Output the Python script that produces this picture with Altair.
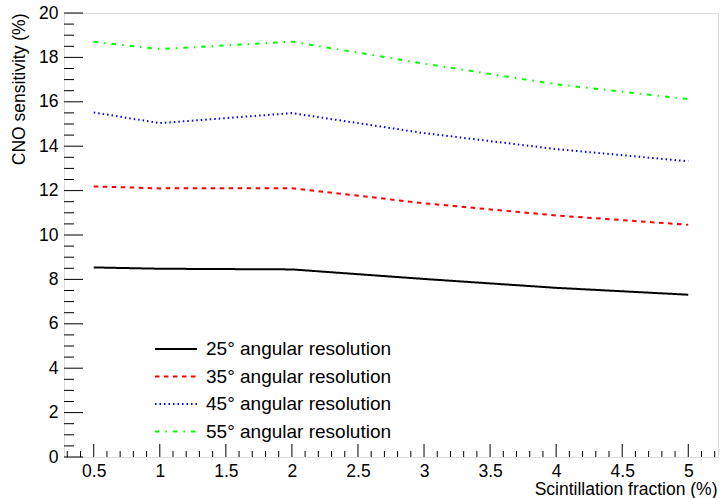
import altair as alt
import pandas as pd

# ---- data ----
scint_fraction = [0.5, 1, 2, 3, 4, 5]
sens_25 = [8.54, 8.48, 8.45, 8.02, 7.62, 7.31]
sens_35 = [12.19, 12.10, 12.11, 11.43, 10.88, 10.46]
sens_45 = [15.52, 15.04, 15.49, 14.59, 13.87, 13.32]
sens_55 = [18.70, 18.37, 18.71, 17.72, 16.79, 16.12]
series_labels = ["25° angular resolution", "35° angular resolution",
                 "45° angular resolution", "55° angular resolution"]
series_colors = ["#000000", "#ff0000", "#0000ff", "#00ff00"]
series_dashes = [[1, 0], [4.5, 4.5], [1.5, 3], [4.5, 6, 1.5, 6]]

y_major = [0, 2, 4, 6, 8, 10, 12, 14, 16, 18, 20]
y_minor = [v / 2 for v in range(0, 41) if v % 4 != 0]
x_major = [0.5, 1, 1.5, 2, 2.5, 3, 3.5, 4, 4.5, 5]
x_minor = [round(0.3 + 0.1 * i, 2) for i in range(0, 50)]
x_minor = [v for v in x_minor if round(v * 10) % 5 != 0]

XDOM = [0.275, 5.225]
YDOM = [0, 20]
W, H = 654, 444
FONT = "Liberation Sans"
LBL = 17.5

xs = alt.Scale(domain=XDOM, nice=False, zero=False)
ys = alt.Scale(domain=YDOM, nice=False, zero=False)

all_series = [sens_25, sens_35, sens_45, sens_55]

layers = []

# axes (labels only, ticks drawn as rules inside)
base_axes = alt.Chart(pd.DataFrame({"x": [XDOM[0]], "y": [YDOM[0]]})).mark_point(opacity=0).encode(
    x=alt.X("x:Q", scale=xs,
            axis=alt.Axis(values=x_major, format="~g", tickSize=0, labelPadding=5, labelFontSize=LBL,
                          labelFont=FONT, labelColor="black", domain=False, grid=False,
                          labelFlush=False,
                          title="Scintillation fraction (%)", titleFont=FONT, titleFontSize=LBL,
                          titleFontWeight="normal", titleAlign="right", titleAnchor="end",
                          titleX=W - 1, titleY=37, titleBaseline="alphabetic")),
    y=alt.Y("y:Q", scale=ys,
            axis=alt.Axis(values=y_major, format="~g", tickSize=0, labelPadding=6, labelFontSize=LBL,
                          labelFont=FONT, labelColor="black", domain=False, grid=False,
                          labelFlush=False,
                          title="CNO sensitivity (%)", titleFont=FONT, titleFontSize=LBL,
                          titleFontWeight="normal", titleAngle=-90, titleAlign="right",
                          titleX=-40, titleY=0, titleBaseline="alphabetic")),
)
layers.append(base_axes)

# y ticks (inward)
layers.append(alt.Chart(pd.DataFrame({"v": y_major})).mark_rule(color="black", strokeWidth=1).encode(
    y=alt.Y("v:Q", scale=ys), x=alt.value(0), x2=alt.value(19)))
layers.append(alt.Chart(pd.DataFrame({"v": y_minor})).mark_rule(color="black", strokeWidth=1).encode(
    y=alt.Y("v:Q", scale=ys), x=alt.value(0), x2=alt.value(10)))
# x ticks (inward)
layers.append(alt.Chart(pd.DataFrame({"v": x_major})).mark_rule(color="black", strokeWidth=1).encode(
    x=alt.X("v:Q", scale=xs), y=alt.value(H), y2=alt.value(H - 13)))
layers.append(alt.Chart(pd.DataFrame({"v": x_minor})).mark_rule(color="black", strokeWidth=1).encode(
    x=alt.X("v:Q", scale=xs), y=alt.value(H), y2=alt.value(H - 6)))

# data lines
for vals, lab, col, dash in zip(all_series, series_labels, series_colors, series_dashes):
    df = pd.DataFrame({"x": scint_fraction, "y": vals, "s": lab})
    layers.append(alt.Chart(df).mark_line(color=col, strokeWidth=2, strokeDash=dash,
                                          interpolate="linear").encode(
        x=alt.X("x:Q", scale=xs), y=alt.Y("y:Q", scale=ys)))

# legend (manual)
leg_y0 = 336
leg_dy = 27.5
for i, (lab, col, dash) in enumerate(zip(series_labels, series_colors, series_dashes)):
    ldf = pd.DataFrame({"label": [lab]})
    yy = leg_y0 + i * leg_dy
    layers.append(alt.Chart(ldf).mark_rule(color=col, strokeWidth=2, strokeDash=dash).encode(
        x=alt.value(91), x2=alt.value(133), y=alt.value(yy)))
    layers.append(alt.Chart(ldf).mark_text(align="left", baseline="middle", font=FONT,
                                           fontSize=19, color="black").encode(
        x=alt.value(142), y=alt.value(yy), text="label:N"))

chart = alt.layer(*layers).properties(
    width=W, height=H,
    autosize=alt.AutoSizeParams(type="none"),
    padding={"left": 64, "top": 13, "right": 2, "bottom": 41},
).configure_view(stroke="black", strokeWidth=1.5).configure(background="white")

chart.save("out.html", embed_options={"renderer": "svg", "actions": False})
